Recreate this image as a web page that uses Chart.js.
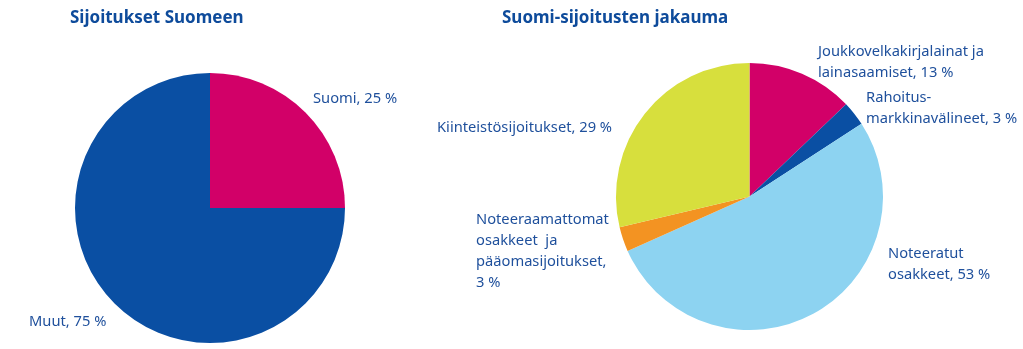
<!DOCTYPE html>
<html lang="fi">
<head>
<meta charset="utf-8">
<title>Sijoitukset Suomeen</title>
<script src="https://cdn.jsdelivr.net/npm/chart.js@4/dist/chart.umd.min.js"></script>
<style>
  html, body { margin: 0; padding: 0; background: #fff; }
  #wrap { position: relative; width: 1023px; height: 349px; overflow: hidden; }
  .box { position: absolute; top: 0; height: 349px; }
  #leftBox { left: 0; width: 420px; }
  #rightBox { left: 420px; width: 603px; }
</style>
</head>
<body>
<div id="wrap">
  <div class="box" id="leftBox"><canvas id="leftChart"></canvas></div>
  <div class="box" id="rightBox"><canvas id="rightChart"></canvas></div>
</div>
<script>
// Sijoitukset Suomeen
var leftTitle = 'Sijoitukset Suomeen';
var leftLabels = ['Suomi', 'Muut'];
var leftValues = [25, 75];
var leftColors = ['#d20068', '#0a4fa3'];
var leftText = [['Suomi, {v} %'], ['Muut, {v} %']];

// Suomi-sijoitusten jakauma
var rightTitle = 'Suomi-sijoitusten jakauma';
var rightLabels = [
  'Joukkovelkakirjalainat ja lainasaamiset',
  'Rahoitusmarkkinavälineet',
  'Noteeratut osakkeet',
  'Noteeraamattomat osakkeet ja pääomasijoitukset',
  'Kiinteistösijoitukset'
];
var rightValues = [13, 3, 53, 3, 29];
var rightColors = ['#d20068', '#0a4fa3', '#8dd3f1', '#f39322', '#d7df3d'];
var rightText = [
  ['Joukkovelkakirjalainat ja', 'lainasaamiset, {v} %'],
  ['Rahoitus-', 'markkinavälineet, {v} %'],
  ['Noteeratut', 'osakkeet, {v} %'],
  ['Noteeraamattomat', 'osakkeet  ja', 'pääomasijoitukset,', '{v} %'],
  ['Kiinteistösijoitukset, {v} %']
];

// tekstien paikat (vasen reuna, ensimmäisen rivin keskikohta) kaavion omassa koordinaatistossa
var leftTextPos = [[313, 99], [29, 322]];
var rightTextPos = [[398, 52], [446, 98], [468, 254], [56, 220], [17, 128]];

var textColor = '#1f509c';
var titleColor = '#0e4b9b';
var fontFamily = '"Noto Sans", "Open Sans", sans-serif';

// piirtää otsikon ja sektorien selitteet
var labelPlugin = {
  id: 'sliceLabels',
  afterDraw: function(chart, args, opts) {
    var ctx = chart.ctx;
    var values = chart.data.datasets[0].data;
    ctx.save();
    ctx.textBaseline = 'middle';
    ctx.textAlign = 'left';
    ctx.fillStyle = titleColor;
    ctx.font = 'bold 17px ' + fontFamily;
    ctx.fillText(opts.title, opts.titlePos[0], opts.titlePos[1]);
    ctx.fillStyle = textColor;
    ctx.font = '14.7px ' + fontFamily;
    opts.text.forEach(function(lines, i) {
      var p = opts.pos[i];
      lines.forEach(function(line, j) {
        ctx.fillText(line.replace('{v}', values[i]), p[0], p[1] + j * 21);
      });
    });
    ctx.restore();
  }
};

function makePie(id, labels, values, colors, padding, plugOpts) {
  return new Chart(document.getElementById(id), {
    type: 'pie',
    data: {
      labels: labels,
      datasets: [{
        data: values,
        backgroundColor: colors,
        borderWidth: 0
      }]
    },
    options: {
      responsive: true,
      maintainAspectRatio: false,
      animation: false,
      layout: { padding: padding },
      plugins: {
        legend: { display: false },
        tooltip: { enabled: false },
        sliceLabels: plugOpts
      }
    },
    plugins: [labelPlugin]
  });
}

makePie('leftChart', leftLabels, leftValues, leftColors,
  { left: 75, right: 75, top: 73, bottom: 6 },
  { title: leftTitle, titlePos: [70, 18], text: leftText, pos: leftTextPos });

makePie('rightChart', rightLabels, rightValues, rightColors,
  { left: 196, right: 140, top: 63, bottom: 19 },
  { title: rightTitle, titlePos: [82, 18], text: rightText, pos: rightTextPos });
</script>
</body>
</html>
